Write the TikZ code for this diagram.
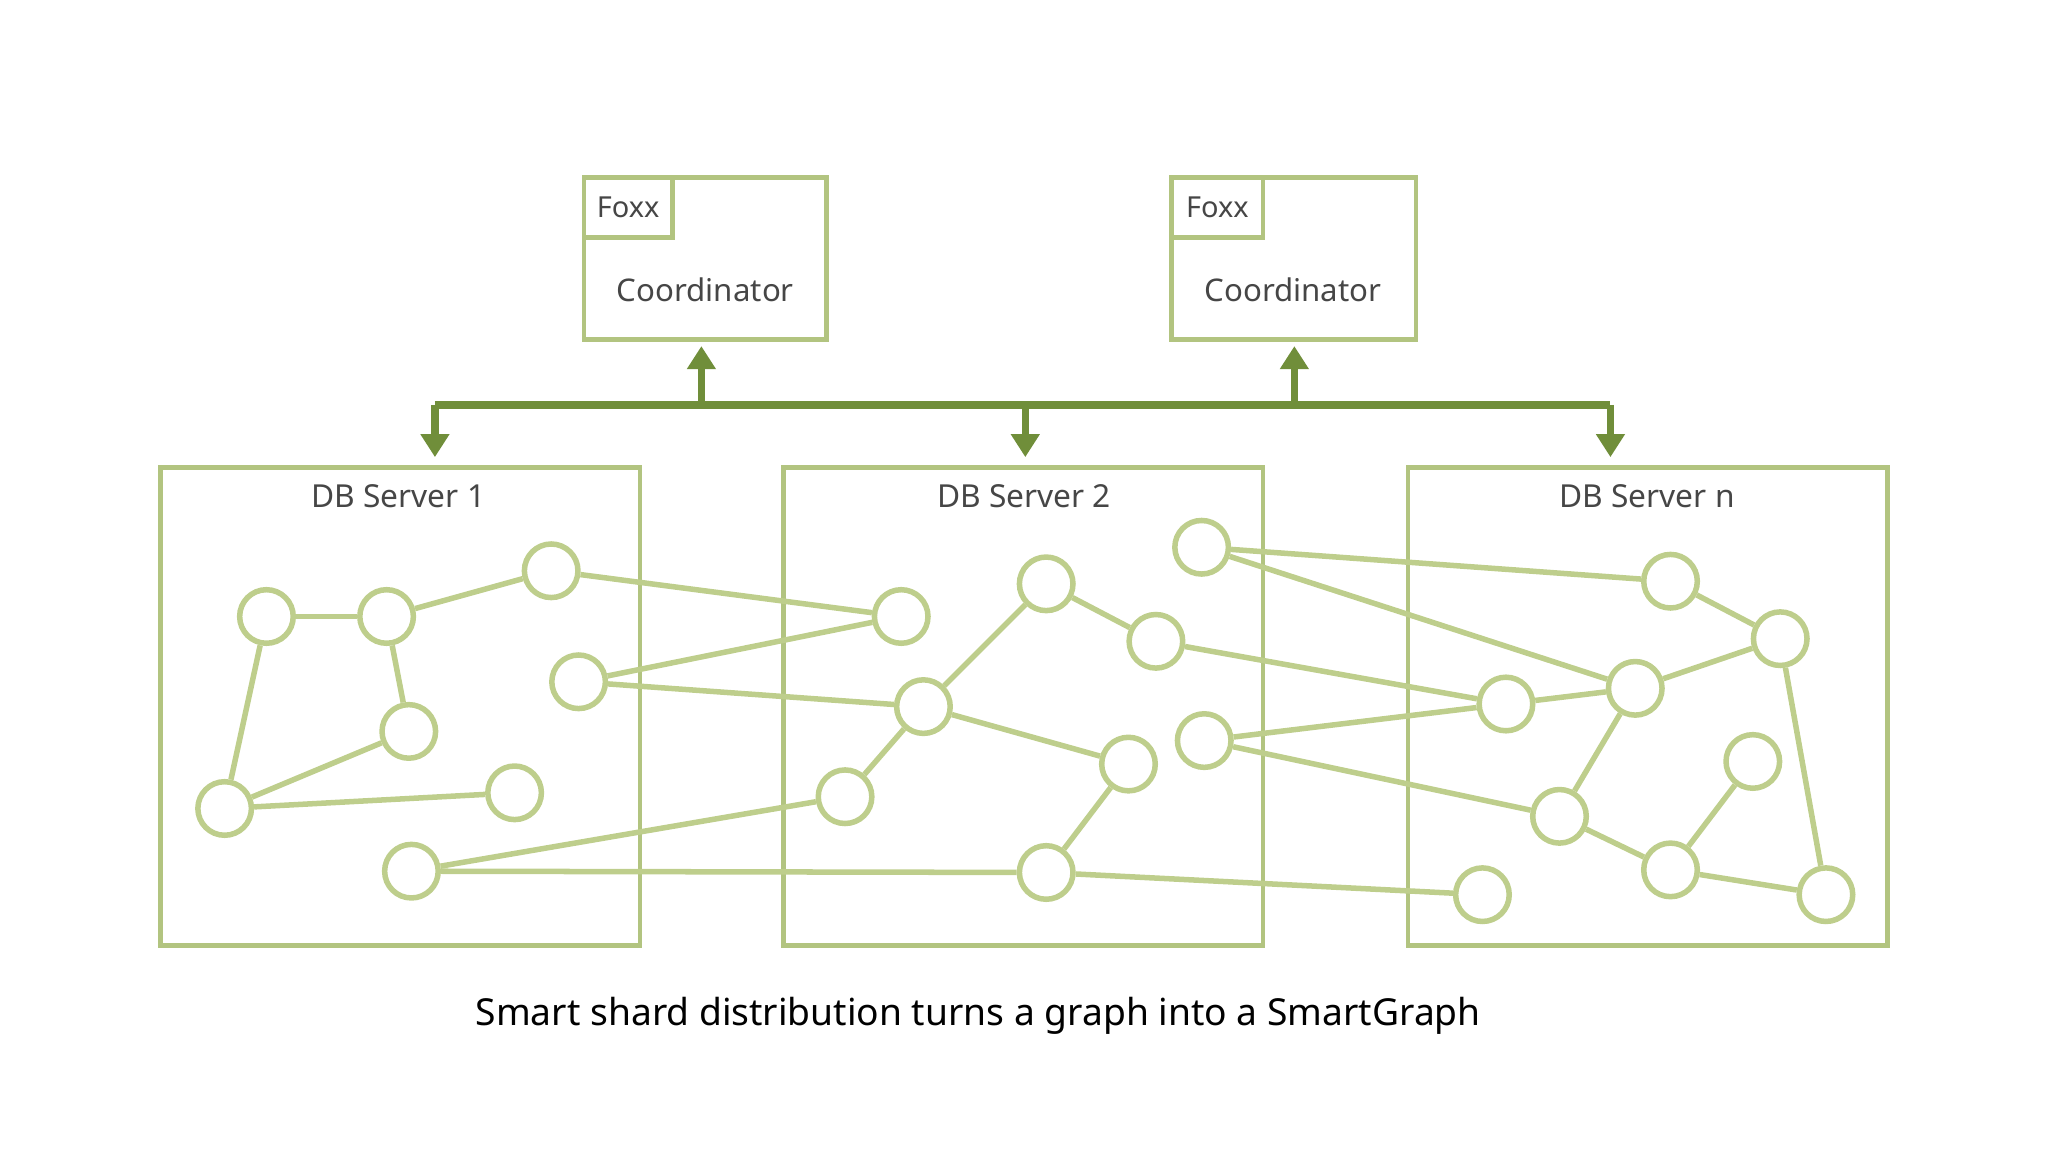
\documentclass[tikz,border=0pt]{standalone}
\usepackage{fontspec}
\setmainfont{Noto Sans}
\usetikzlibrary{arrows.meta}
\definecolor{boxc}{RGB}{178,196,128}
\definecolor{edgec}{RGB}{190,206,140}
\definecolor{arr}{RGB}{112,142,58}
\definecolor{txt}{RGB}{70,70,70}
\begin{document}
\begin{tikzpicture}[x=0.01cm,y=-0.01cm,
  srv/.style={draw=boxc,line width=1pt},
  v/.style={circle,draw=edgec,line width=1.2pt,minimum size=0.41cm,inner sep=0,fill=white},
  e/.style={draw=edgec,line width=1.2pt},
  ar/.style={draw=arr,line width=1.6pt,-{Triangle[length=5pt,width=6pt]}},
  lab/.style={text=txt,font=\fontsize{6.9pt}{8pt}\selectfont}]
\useasboundingbox (0,0) rectangle (1568,882);
% coordinators
\draw[srv] (447,136) rectangle (633,260);
\draw[srv] (447,136) rectangle (515,182);
\node[lab,font=\fontsize{6.3pt}{8pt}\selectfont] (f1) at (481,159) {Foxx};
\node[lab,font=\fontsize{6.8pt}{8pt}\selectfont] (co1) at (540,222) {Coordinator};
\draw[srv] (897,136) rectangle (1084,260);
\draw[srv] (897,136) rectangle (967,182);
\node[lab,font=\fontsize{6.3pt}{8pt}\selectfont] (f2) at (932,159) {Foxx};
\node[lab,font=\fontsize{6.8pt}{8pt}\selectfont] (co2) at (990,222) {Coordinator};
% arrows
\coordinate (h1) at (333,310); \coordinate (h2) at (1233,310);
\draw[arr,line width=1.6pt] (h1) -- (h2);
\coordinate (d1) at (333,350); \coordinate (d2) at (785,350); \coordinate (d3) at (1233,350);
\coordinate (m2) at (785,310);
\coordinate (u1s) at (537,310); \coordinate (u1) at (537,265);
\coordinate (u2s) at (991,310); \coordinate (u2) at (991,265);
\draw[ar] (h1) -- (d1); \draw[ar] (m2) -- (d2); \draw[ar] (h2) -- (d3);
\draw[ar] (u1s) -- (u1); \draw[ar] (u2s) -- (u2);
% servers
\draw[srv] (123,358) rectangle (490,724);
\draw[srv] (600,358) rectangle (967,724);
\draw[srv] (1078,358) rectangle (1445,724);
\node[lab] (t1) at (305,380) {DB Server 1};
\node[lab] (t2) at (784,380) {DB Server 2};
\node[lab] (t3) at (1261,380) {DB Server n};
% vertices
\foreach \n/\x/\y in {a1/204/472,a2/296/472,a3/422/437,a4/313/560,a5/172/619,a6/394/607,a7/443/522,a8/315/667,
 b1/690/472,b2/801/447,b3/885/491,b4/707/541,b5/864/585,b6/647/610,b7/801/668,b8/920/419,b9/922/567,
 c1/1279/445,c2/1363/489,c3/1153/539,c4/1252/527,c5/1342/583,c6/1194/625,c7/1279/666,c8/1398/685,c9/1135/685}
  \node[v] (\n) at (\x,\y) {};
\foreach \p/\q in {a1/a2,a2/a3,a2/a4,a1/a5,a5/a4,a5/a6,a3/b1,a7/b1,a7/b4,a8/b6,a8/b7,b4/b2,b2/b3,b4/b5,b4/b6,b5/b7,b7/c9,b8/c1,b8/c4,b3/c3,b9/c3,b9/c6,c3/c4,c4/c2,c1/c2,c4/c6,c6/c7,c7/c5,c7/c8,c2/c8}
  \draw[e] (\p) -- (\q);
\node[font=\fontsize{8.1pt}{10pt}\selectfont] (cap) at (749,778) {Smart shard distribution turns a graph into a SmartGraph};
\end{tikzpicture}
\end{document}
